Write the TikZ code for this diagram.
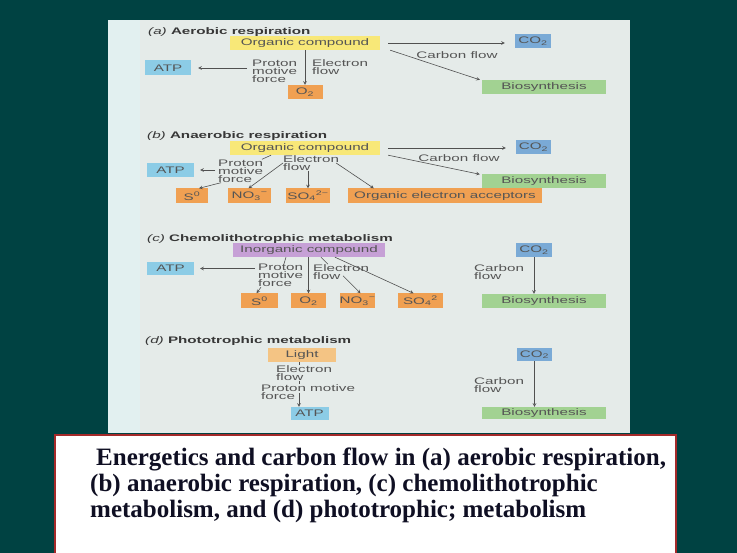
\documentclass[tikz,border=0pt]{standalone}
\usepackage{fontspec}
\newfontfamily\figfont[FakeStretch=1.6]{Liberation Sans}
\newfontfamily\capfont{Liberation Serif}
\definecolor{slide}{RGB}{0,66,66}
\definecolor{panel}{RGB}{229,235,233}
\definecolor{strip}{RGB}{226,240,240}
\definecolor{yellowc}{RGB}{248,232,120}
\definecolor{co2c}{RGB}{122,170,214}
\definecolor{atpc}{RGB}{140,204,230}
\definecolor{bioc}{RGB}{162,210,146}
\definecolor{acceptc}{RGB}{240,160,82}
\definecolor{inorgc}{RGB}{198,160,214}
\definecolor{lightc}{RGB}{244,196,132}
\definecolor{labelgray}{RGB}{85,85,85}
\definecolor{titlegray}{RGB}{55,55,55}
\definecolor{linegray}{RGB}{80,80,80}
\definecolor{capline}{RGB}{165,42,42}
\definecolor{captext}{RGB}{15,15,35}
\begin{document}
\begin{tikzpicture}[>=stealth,x=1pt,y=-1pt,
	box/.style={rectangle,minimum height=14,inner sep=0pt,text=labelgray,
		font={\figfont\fontsize{9.5}{8.2}\selectfont}},
	accbox/.style={box,fill=acceptc,minimum height=15},
	lbl/.style={align=left,inner sep=0pt,text=labelgray,
		font={\figfont\fontsize{9.5}{8.2}\selectfont}},
	ttl/.style={anchor=west,inner sep=0pt,text=titlegray,
		font={\figfont\bfseries\fontsize{9.5}{11}\selectfont}},
	captxt/.style={anchor=base west,inner sep=0pt,text=captext,
		font={\capfont\bfseries\fontsize{25}{27}\selectfont}},
	flow/.style={->,draw=linegray,line width=0.6pt},
	bare/.style={draw=linegray,line width=0.6pt}]
	\useasboundingbox (0,0) rectangle (737,553);
	\fill[slide] (0,0) rectangle (737,553);
	\fill[panel] (108,20) rectangle (630,433);
	\fill[strip] (108,20) rectangle (140,433);
	% (a)
	\node[ttl] (titleA) at (148,32) {{\mdseries\itshape (a)} Aerobic respiration};
	\node[box,fill=yellowc,minimum width=150] (orgA) at (305,43) {Organic compound};
	\node[box,fill=co2c,minimum width=36] (co2A) at (533,41) {CO\textsubscript{2}};
	\node[box,fill=bioc,minimum width=124] (bioA) at (544,87) {Biosynthesis};
	\node[box,fill=atpc,minimum width=46,minimum height=15] (atpA) at (168,68) {ATP};
	\node[box,fill=acceptc,minimum width=35] (o2A) at (305,92) {O\textsubscript{2}};
	\node[lbl,anchor=west] (pmfA) at (252,71) {Proton\\motive\\force};
	\node[lbl,anchor=west] (efA) at (312,67) {Electron\\flow};
	\node[lbl] (cfA) at (457,55) {Carbon flow};
	\draw[flow,shorten <=8pt,shorten >=10pt] (orgA.east) -- (co2A.west |- orgA.east);
	\draw[flow] ([xshift=10]orgA.south east) -- ([xshift=-2]bioA.north west);
	\draw[flow,shorten <=5pt,shorten >=7pt] (pmfA.west |- atpA.east) -- (atpA.east);
	\draw[flow] (orgA.south) -- (o2A.north);
	% (b)
	\node[ttl] (titleB) at (147,136) {{\mdseries\itshape (b)} Anaerobic respiration};
	\node[box,fill=yellowc,minimum width=150] (orgB) at (305,148) {Organic compound};
	\node[box,fill=co2c,minimum width=35] (co2B) at (533.5,147) {CO\textsubscript{2}};
	\node[box,fill=bioc,minimum width=124] (bioB) at (544,181.5) {Biosynthesis};
	\node[box,fill=atpc,minimum width=47] (atpB) at (170.5,170) {ATP};
	\node[lbl,anchor=west] (pmfB) at (218,171) {Proton\\motive\\force};
	\node[lbl,anchor=west] (efB) at (283,163) {Electron\\flow};
	\node[lbl] (cfB) at (459,158) {Carbon flow};
	\node[accbox,minimum width=32] (s0B) at (192,196) {S\textsuperscript{0}};
	\node[accbox,minimum width=43] (no3B) at (249.5,196) {NO\textsubscript{3}\textsuperscript{−}};
	\node[accbox,minimum width=44] (so4B) at (308,196) {SO\textsubscript{4}\textsuperscript{2−}};
	\node[accbox,minimum width=194] (oeaB) at (445,196) {Organic electron acceptors};
	\draw[flow,shorten <=8pt,shorten >=10pt] (orgB.east) -- (co2B.west |- orgB.east);
	\draw[flow] ([xshift=8]orgB.south east) -- ([xshift=-2]bioB.north west);
	\draw[flow,shorten <=3pt,shorten >=6pt] (pmfB.west |- atpB.east) -- (atpB.east);
	\draw[bare] ([xshift=-34]orgB.south) -- ([xshift=44]pmfB.north west);
	\draw[flow] ([xshift=3]pmfB.south west) -- ([xshift=7]s0B.north);
	\draw[flow] (efB.west) -- ([xshift=-1]no3B.north);
	\draw[flow] (efB.south -| so4B.north) -- (so4B.north);
	\draw[flow] ([xshift=-3]efB.east) -- ([xshift=26]oeaB.north west);
	% (c)
	\node[ttl] (titleC) at (147,239) {{\mdseries\itshape (c)} Chemolithotrophic metabolism};
	\node[box,fill=inorgc,minimum width=152] (inoC) at (309,250) {Inorganic compound};
	\node[box,fill=co2c,minimum width=36] (co2C) at (534,250) {CO\textsubscript{2}};
	\node[box,fill=bioc,minimum width=124] (bioC) at (544,301) {Biosynthesis};
	\node[box,fill=atpc,minimum width=47,minimum height=13] (atpC) at (170.5,268.5) {ATP};
	\node[lbl,anchor=west] (pmfC) at (258,275.5) {Proton\\motive\\force};
	\node[lbl,anchor=west] (efC) at (313,272) {Electron\\flow};
	\node[lbl,anchor=west] (cfC) at (474,272) {Carbon\\flow};
	\node[accbox,minimum width=37] (s0C) at (259.5,301) {S\textsuperscript{0}};
	\node[accbox,minimum width=35] (o2C) at (308.5,301) {O\textsubscript{2}};
	\node[accbox,minimum width=35] (no3C) at (357.5,301) {NO\textsubscript{3}\textsuperscript{−}};
	\node[accbox,minimum width=45] (so4C) at (420.5,301) {SO\textsubscript{4}\textsuperscript{2}};
	\draw[flow,shorten <=3pt,shorten >=6pt] (pmfC.west |- atpC.east) -- (atpC.east);
	\draw[bare] ([xshift=-23]inoC.south) -- ([xshift=26]pmfC.north west);
	\draw[flow] ([xshift=3]pmfC.south west) -- ([xshift=-3]s0C.north);
	\draw[flow] (inoC.south -| o2C.north) -- (o2C.north);
	\draw[bare] ([xshift=12]inoC.south) -- ([xshift=15]efC.north west);
	\draw[flow] ([xshift=30,yshift=4]efC.south west) -- ([xshift=3]no3C.north);
	\draw[flow] ([xshift=26]inoC.south) -- ([xshift=-7]so4C.north);
	\draw[flow] (co2C.south) -- (co2C.south |- bioC.north);
	% (d)
	\node[ttl] (titleD) at (145,341) {{\mdseries\itshape (d)} Phototrophic metabolism};
	\node[box,fill=lightc,minimum width=68] (lightD) at (302,355) {Light};
	\node[lbl,anchor=west] (efD) at (276,373) {Electron\\flow};
	\node[lbl,anchor=west] (pmfD) at (261,392) {Proton motive\\force};
	\node[box,fill=atpc,minimum width=38,minimum height=13] (atpD) at (309.5,413.5) {ATP};
	\node[box,fill=co2c,minimum width=35,minimum height=13] (co2D) at (534.5,354.5) {CO\textsubscript{2}};
	\node[lbl,anchor=west] (cfD) at (474,385) {Carbon\\flow};
	\node[box,fill=bioc,minimum width=124,minimum height=12] (bioD) at (544,413) {Biosynthesis};
	\draw[bare] ([xshift=-3]lightD.south) -- ([xshift=23]efD.north west);
	\draw[bare] ([xshift=23]efD.south west) -- ([xshift=38]pmfD.north west);
	\draw[flow] ([xshift=38,yshift=-1]pmfD.west) -- ([xshift=-10.5]atpD.north);
	\draw[flow] (co2D.south) -- (co2D.south |- bioD.north);
	% caption
	\draw[capline,fill=white,line width=1.2pt] (55,435) rectangle (676,560);
	\node[captxt] (capA) at (96,465) {Energetics and carbon flow in (a) aerobic respiration,};
	\node[captxt] (capB) at (90,492) {(b) anaerobic respiration, (c) chemolithotrophic};
	\node[captxt] (capC) at (90,518) {metabolism, and (d) phototrophic; metabolism};
\end{tikzpicture}
\end{document}
